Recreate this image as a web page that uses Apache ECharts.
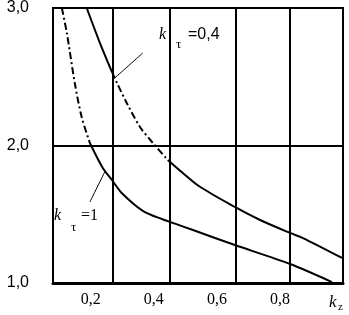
<!DOCTYPE html>
<html><head><meta charset="utf-8">
<script src="https://cdn.jsdelivr.net/npm/echarts@6/dist/echarts.min.js"></script>
<style>html,body{margin:0;padding:0;background:#fff}#c{width:349px;height:315px}</style>
</head><body><div id="c"></div>
<script>
const xMin = 0.08, xMax = 1.0;
const xTicks = [0.2, 0.4, 0.6, 0.8];
const yMin = 1, yMax = 3, yStep = 1;
const gridX = [0.267, 0.454, 0.657, 0.835];
const curveKt1 = [[0.108,3.0],[0.124,2.818],[0.149,2.455],[0.171,2.207],[0.197,2.018],[0.238,1.836],[0.267,1.749],[0.298,1.655],[0.365,1.525],[0.429,1.462],[0.467,1.432],[0.524,1.385],[0.594,1.327],[0.657,1.276],[0.832,1.138],[0.965,1.007]];
const curveKt04 = [[0.187,3.0],[0.229,2.745],[0.267,2.535],[0.283,2.455],[0.314,2.309],[0.356,2.135],[0.397,2.018],[0.444,1.895],[0.492,1.8],[0.546,1.70],[0.657,1.553],[0.737,1.458],[0.832,1.364],[0.873,1.327],[0.997,1.182]];
const leaderKt04 = [[0.365,2.673],[0.276,2.491]];
const leaderKt1 = [[0.197,1.589],[0.244,1.807]];

const comma = v => String(v.toFixed(1)).replace('.', ',');
function seg(data, type, width) {
  return { type: 'line', data: data, smooth: 0.3, symbol: 'none', silent: true,
    lineStyle: { color: '#000', width: width || 2, type: type } };
}
const dashed = [7, 3, 2, 3];
const series = [
  seg(curveKt1.slice(0, 5), dashed),
  seg(curveKt1.slice(4), 'solid'),
  seg(curveKt04.slice(0, 3), 'solid'),
  seg(curveKt04.slice(2, 8), dashed),
  seg(curveKt04.slice(7), 'solid'),
  seg(leaderKt04, 'solid', 1),
  seg(leaderKt1, 'solid', 1)
];
series[0].markLine = {
  symbol: 'none', silent: true, label: { show: false },
  lineStyle: { color: '#000', width: 2, type: 'solid' },
  data: gridX.map(x => ({ xAxis: x }))
};

const chart = echarts.init(document.getElementById('c'), null, { renderer: 'canvas' });
chart.setOption({
  backgroundColor: '#fff',
  animation: false,
  grid: { left: 53, right: 6, top: 8, bottom: 32, show: true, borderColor: '#000', borderWidth: 2 },
  xAxis: {
    type: 'value', min: xMin, max: xMax,
    axisLine: { show: true, onZero: false, lineStyle: { color: '#000', width: 3 } },
    axisTick: { show: false },
    splitLine: { show: false },
    axisLabel: { customValues: xTicks, formatter: comma, color: '#000', margin: 9,
      fontFamily: 'Liberation Serif', fontSize: 16 }
  },
  yAxis: {
    type: 'value', min: yMin, max: yMax, interval: yStep,
    axisLine: { show: true, onZero: false, lineStyle: { color: '#000', width: 2 } },
    axisTick: { show: false },
    splitLine: { show: true, lineStyle: { color: '#000', width: 2 } },
    axisLabel: { formatter: comma, color: '#000', margin: 24, padding: [0, 0, 6, 0],
      fontFamily: 'Liberation Sans', fontSize: 16 }
  },
  graphic: [
    { type: 'text', left: 159, top: 27, style: { text: 'k', font: 'italic 16px "Liberation Serif"', fill: '#000' } },
    { type: 'text', left: 176, top: 38, style: { text: 'τ', font: '13px "Liberation Serif"', fill: '#000' } },
    { type: 'text', left: 188, top: 27, style: { text: '=0,4', font: '16px "Liberation Sans"', fill: '#000' } },
    { type: 'text', left: 54, top: 208, style: { text: 'k', font: 'italic 16px "Liberation Serif"', fill: '#000' } },
    { type: 'text', left: 71, top: 221, style: { text: 'τ', font: '13px "Liberation Serif"', fill: '#000' } },
    { type: 'text', left: 81, top: 208, style: { text: '=1', font: '16px "Liberation Serif"', fill: '#000' } },
    { type: 'text', left: 329, top: 294, style: { text: 'k', font: 'italic 17px "Liberation Serif"', fill: '#000' } },
    { type: 'text', left: 338, top: 302, style: { text: 'z', font: '11px "Liberation Serif"', fill: '#000' } }
  ],
  series: series
});
</script></body></html>
